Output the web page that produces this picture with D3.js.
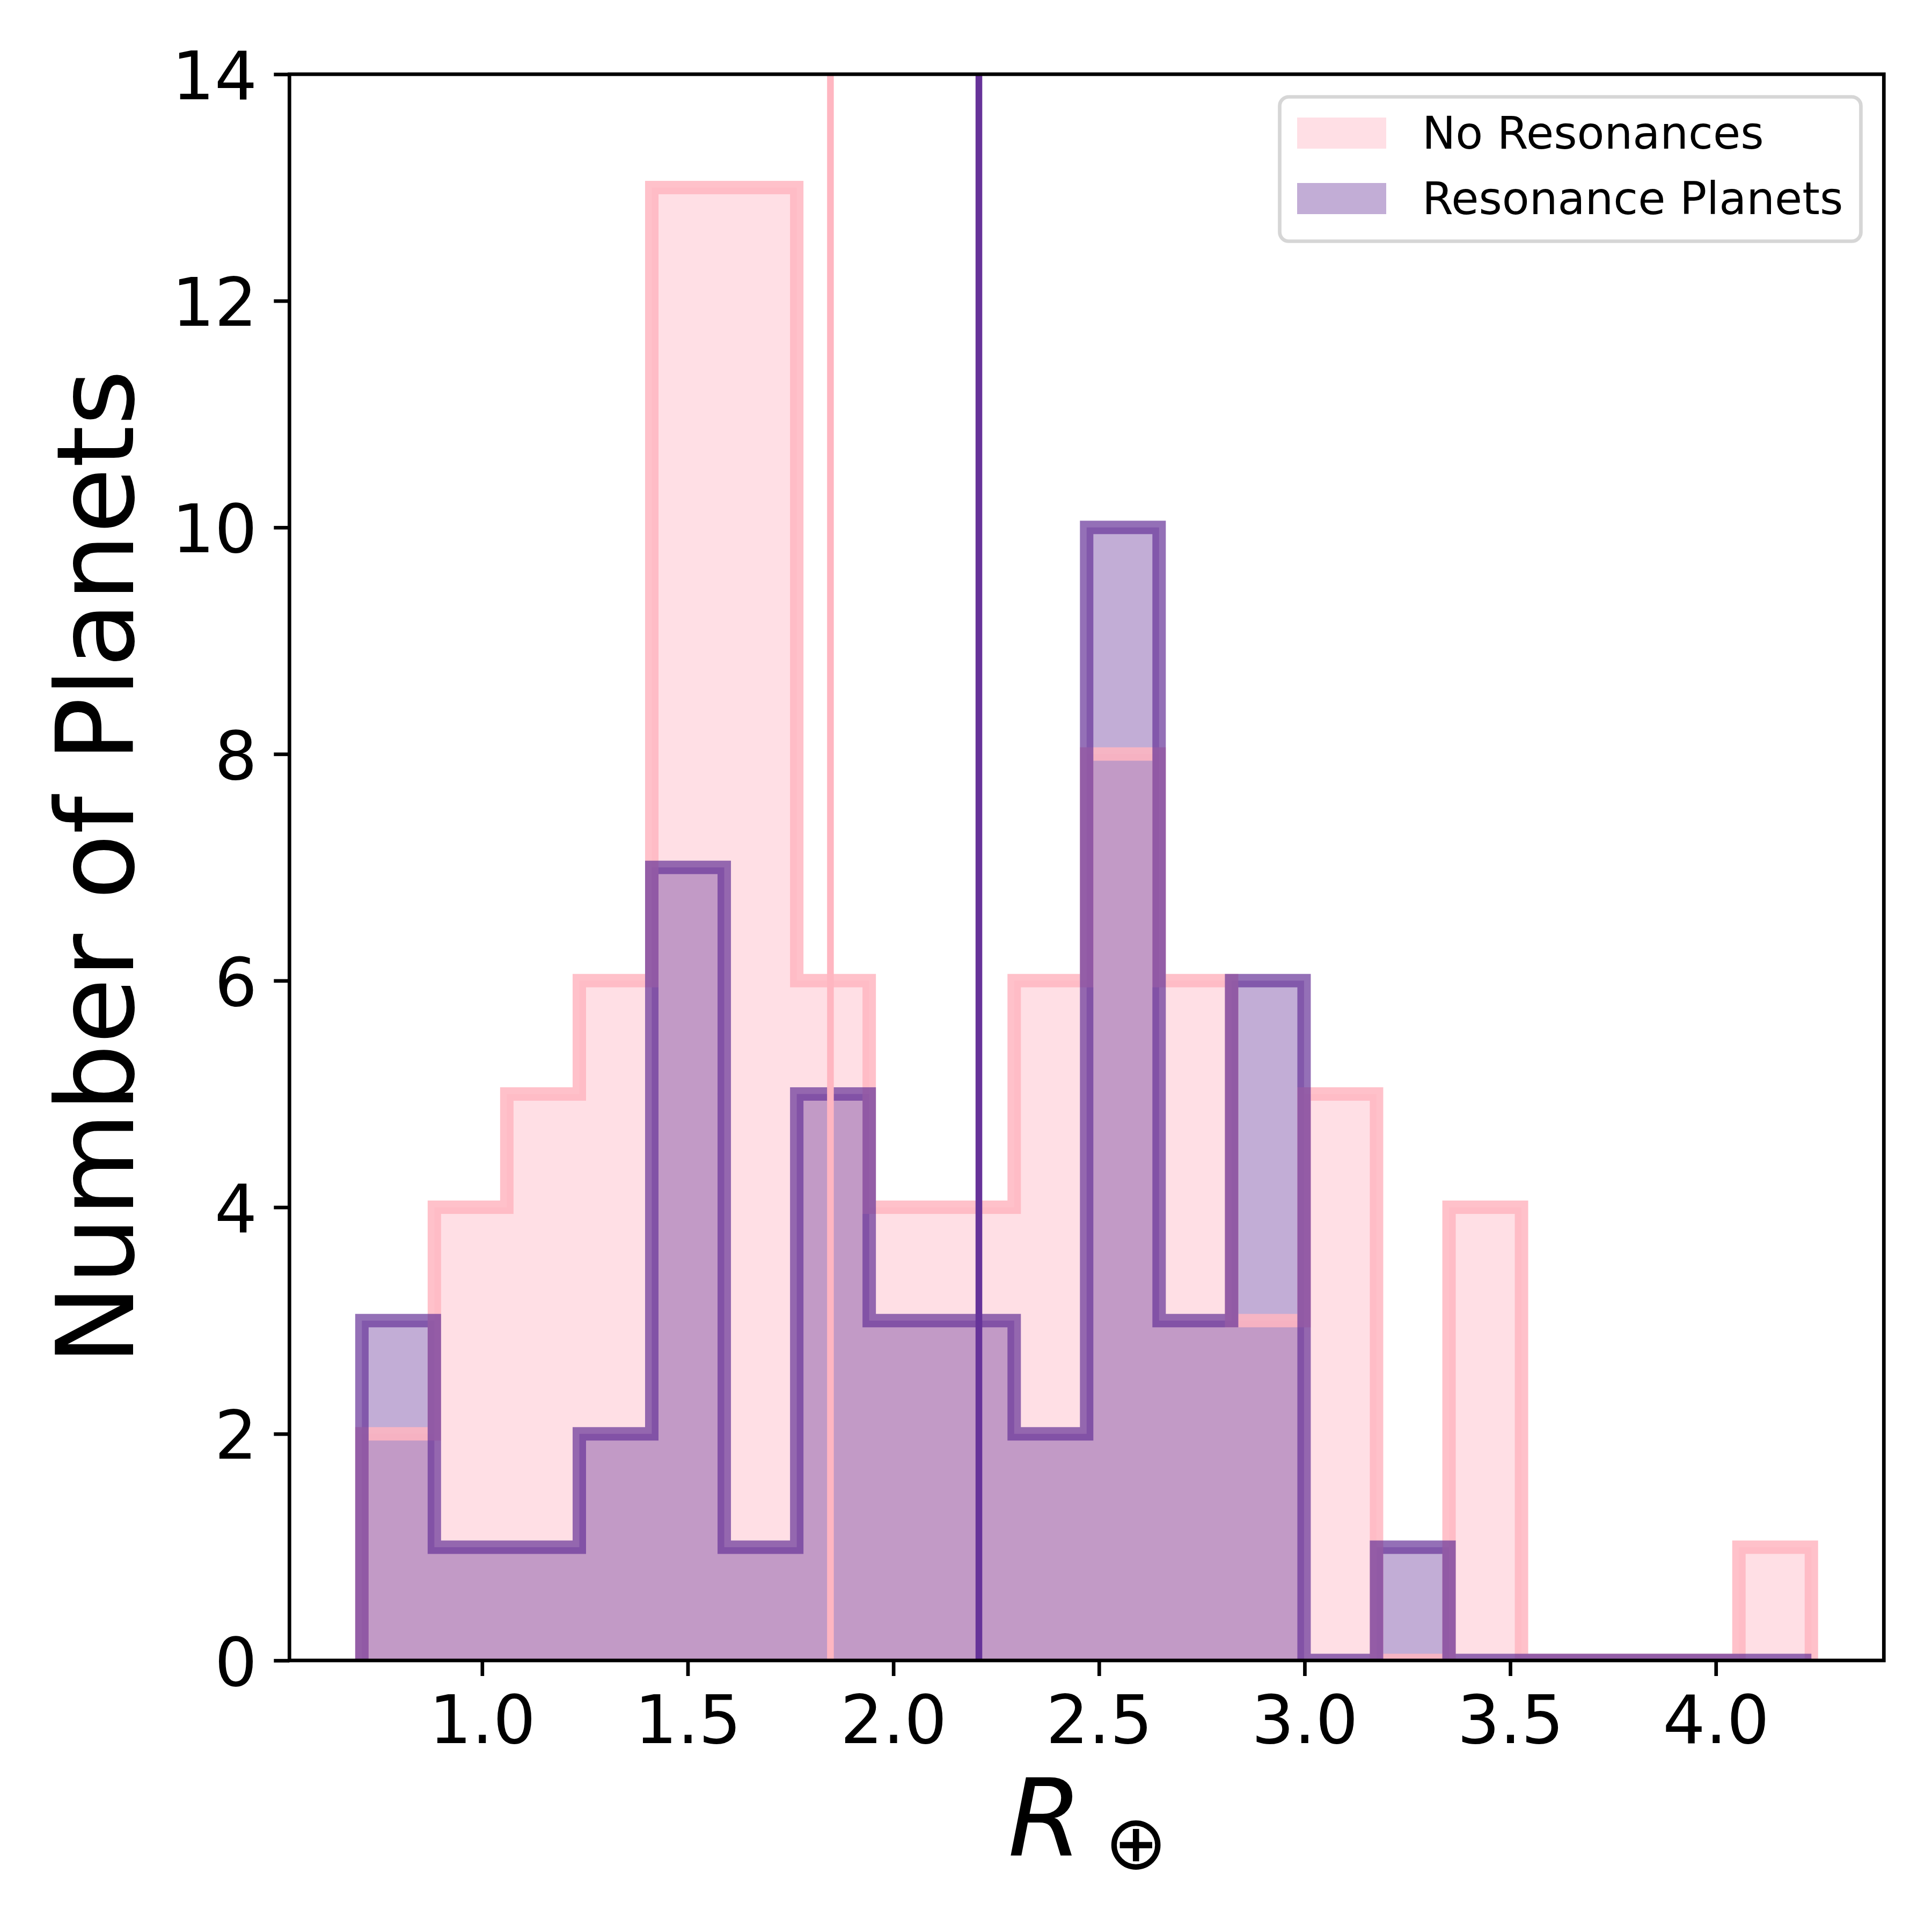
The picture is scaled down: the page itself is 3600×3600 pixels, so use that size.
<!DOCTYPE html>
<html><head><meta charset="utf-8">
<script src="https://cdn.jsdelivr.net/npm/d3@7"></script>
<style>body{margin:0;background:#fff}svg{display:block}</style>
</head><body>
<svg id="chart" width="3600" height="3600" xmlns="http://www.w3.org/2000/svg"></svg>
<script>
// ---- data ----
const binEdges = [0.7077, 0.8839, 1.0601, 1.2364, 1.4126, 1.5888, 1.7651, 1.9413, 2.1175, 2.2938,
                  2.4700, 2.6462, 2.8225, 2.9987, 3.1749, 3.3512, 3.5274, 3.7036, 3.8798, 4.0561, 4.2323];
const noResonanceCounts = [2, 4, 5, 6, 13, 13, 6, 4, 4, 6, 8, 6, 3, 5, 0, 4, 0, 0, 0, 1];
const resonanceCounts   = [3, 1, 1, 2, 7, 1, 5, 3, 3, 2, 10, 3, 6, 0, 1, 0, 0, 0, 0, 0];
const medianValues = [1.847, 2.208];           // No Resonances, Resonance Planets
const seriesNames = ["No Resonances", "Resonance Planets"];
const xTickValues = [1.0, 1.5, 2.0, 2.5, 3.0, 3.5, 4.0];
const yTickValues = [0, 2, 4, 6, 8, 10, 12, 14];
const yMax = 14;

// ---- layout ----
const L = 539.3, R = 3510.3, T = 138.3, B = 3094;
const FONT = "DejaVu Sans";
const svg = d3.select("#chart");
svg.append("rect").attr("width", 3600).attr("height", 3600).attr("fill", "#fff");

const lo = binEdges[0], hi = binEdges[binEdges.length - 1], pad = 0.05 * (hi - lo);
const x = d3.scaleLinear().domain([lo - pad, hi + pad]).range([L, R]);
const y = d3.scaleLinear().domain([0, yMax]).range([B, T]);

svg.append("defs").append("clipPath").attr("id", "ax")
  .append("rect").attr("x", L).attr("y", T).attr("width", R - L).attr("height", B - T);
const plot = svg.append("g").attr("clip-path", "url(#ax)");

function stepPoints(counts) {
  const pts = [[binEdges[0], 0]];
  counts.forEach((c, i) => { pts.push([binEdges[i], c]); pts.push([binEdges[i + 1], c]); });
  pts.push([binEdges[binEdges.length - 1], 0]);
  return pts;
}
const line = d3.line().x(d => x(d[0])).y(d => y(d[1]));

const styles = [
  {counts: noResonanceCounts, fill: "pink", fillOp: 0.5, edge: "lightpink", edgeOp: 0.85, med: "lightpink"},
  {counts: resonanceCounts, fill: "rebeccapurple", fillOp: 0.4, edge: "rebeccapurple", edgeOp: 0.7, med: "rebeccapurple"}
];

// fills
styles.forEach(s => {
  plot.append("path").attr("d", line(stepPoints(s.counts)) + "Z")
    .attr("fill", s.fill).attr("fill-opacity", s.fillOp).attr("stroke", "none");
});
// edges
styles.forEach(s => {
  plot.append("path").attr("d", line(stepPoints(s.counts)))
    .attr("fill", "none").attr("stroke", s.edge).attr("stroke-opacity", s.edgeOp)
    .attr("stroke-width", 25).attr("stroke-linejoin", "miter").attr("stroke-linecap", "butt");
});
// median lines
styles.forEach((s, i) => {
  plot.append("line").attr("x1", x(medianValues[i])).attr("x2", x(medianValues[i]))
    .attr("y1", T).attr("y2", B).attr("stroke", s.med).attr("stroke-width", 12.5);
});

// ---- axes ----
const xAxis = d3.axisBottom(x).tickValues(xTickValues).tickFormat(d3.format(".1f"))
  .tickSizeInner(29).tickSizeOuter(0).tickPadding(29);
const gx = svg.append("g").attr("transform", `translate(0,${B})`).call(xAxis);
gx.select(".domain").remove();
gx.selectAll(".tick line").attr("stroke", "#000").attr("stroke-width", 6.7);
gx.selectAll(".tick text").attr("font-family", FONT).attr("font-size", 125).attr("fill", "#000")
  .attr("dy", null).attr("y", 154);

const yAxis = d3.axisLeft(y).tickValues(yTickValues).tickFormat(d3.format("d"))
  .tickSizeInner(29).tickSizeOuter(0).tickPadding(29);
const gy = svg.append("g").attr("transform", `translate(${L},0)`).call(yAxis);
gy.select(".domain").remove();
gy.selectAll(".tick line").attr("stroke", "#000").attr("stroke-width", 6.7);
gy.selectAll(".tick text").attr("font-family", FONT).attr("font-size", 125).attr("fill", "#000")
  .attr("dy", null).attr("y", 46).attr("x", -60);

// spines
svg.append("rect").attr("x", L).attr("y", T).attr("width", R - L).attr("height", B - T)
  .attr("fill", "none").attr("stroke", "#000").attr("stroke-width", 6.7);

// axis labels
svg.append("text").attr("transform", `translate(248,${(T + B) / 2}) rotate(-90)`)
  .attr("text-anchor", "middle").attr("font-family", FONT).attr("font-size", 200)
  .attr("fill", "#000").text("Number of Planets");
const xl = svg.append("text").attr("font-family", FONT).attr("fill", "#000").attr("y", 3458);
xl.append("tspan").attr("x", 1878).attr("font-size", 200).attr("font-style", "italic").text("R");
xl.append("tspan").attr("x", 2058).attr("y", 3482).attr("font-size", 140).text("\u2295");

// ---- legend ----
const lg = svg.append("g");
lg.append("rect").attr("x", 2384.5).attr("y", 180.5).attr("width", 3467.5 - 2384.5).attr("height", 449.5 - 180.5)
  .attr("rx", 17).attr("ry", 17).attr("fill", "#fff").attr("fill-opacity", 0.8)
  .attr("stroke", "#ccc").attr("stroke-opacity", 0.8).attr("stroke-width", 6.7);
const legendRowsY = [219, 341];
styles.forEach((s, i) => {
  lg.append("rect").attr("x", 2417).attr("y", legendRowsY[i]).attr("width", 166).attr("height", 58)
    .attr("fill", s.fill).attr("fill-opacity", s.fillOp);
  lg.append("text").attr("x", 2650).attr("y", legendRowsY[i] + 58).attr("font-family", FONT)
    .attr("font-size", 83.3).attr("fill", "#000").text(seriesNames[i]);
});
</script>
</body></html>
